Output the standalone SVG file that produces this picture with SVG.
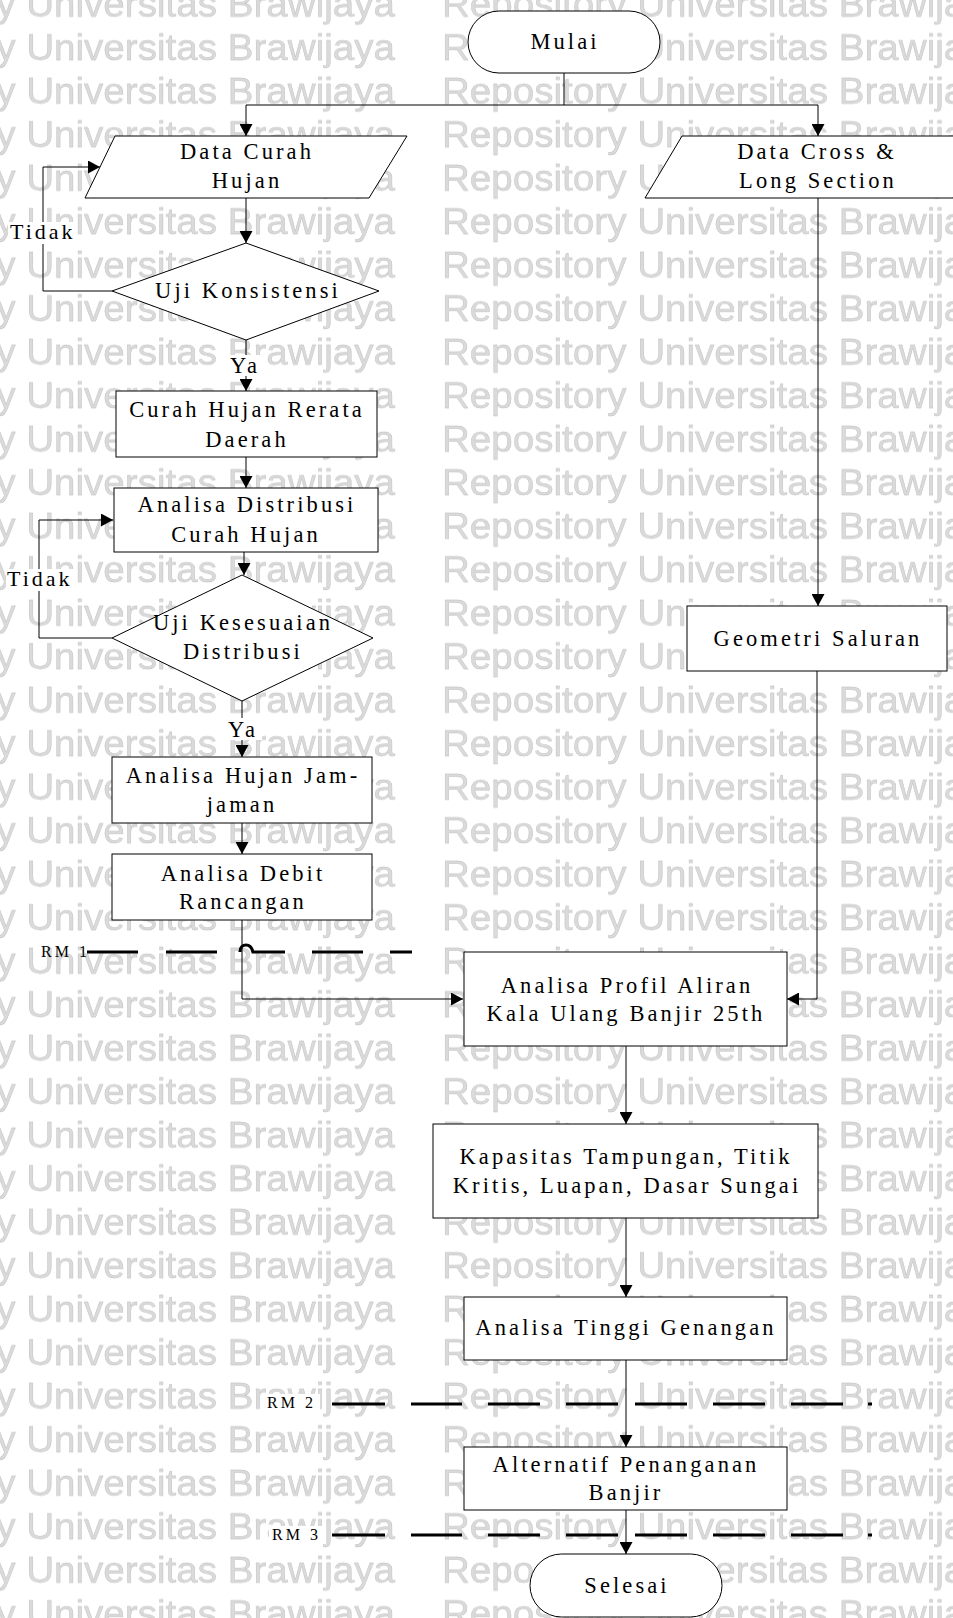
<svg xmlns="http://www.w3.org/2000/svg" width="953" height="1618" viewBox="0 0 953 1618">
<defs>
<style>
.n{fill:#fff;stroke:#000;stroke-width:1}
.t{font-family:"Liberation Serif","Times New Roman",serif;font-size:22.5px;letter-spacing:3.1px;text-anchor:middle;fill:#000}
.l{font-family:"Liberation Serif","Times New Roman",serif;font-size:22px;letter-spacing:3px;fill:#000}
.rmt{font-family:"Liberation Serif","Times New Roman",serif;font-size:16px;letter-spacing:3px;fill:#000}
.c{fill:none;stroke:#000;stroke-width:1}
.rm{fill:none;stroke:#000;stroke-width:3.2}
.bg{fill:#fff;stroke:none}
.wm{font-family:"Liberation Sans",Arial,sans-serif;font-size:37px;fill:#dadada;stroke:#bcbcbc;stroke-width:0.4}
</style>
<marker id="ah" viewBox="0 0 12 13" refX="12" refY="6.5" markerWidth="12" markerHeight="13" markerUnits="userSpaceOnUse" orient="auto">
<path d="M0,0 L12,6.5 L0,13 z" fill="#000"/>
</marker>
<pattern id="wmp" patternUnits="userSpaceOnUse" x="-169" y="-17" width="611" height="43.5">
<text class="wm" x="0" y="34" textLength="564" lengthAdjust="spacingAndGlyphs">Repository Universitas Brawijaya</text>
</pattern>
</defs>
<rect x="0" y="0" width="953" height="1618" fill="#fff"/>
<g id="watermark"><rect x="0" y="0" width="953" height="1618" fill="url(#wmp)"/></g>

<g id="connectors">
<path class="c" d="M564,73 V105"/>
<path class="c" d="M246,105 H818"/>
<path class="c" d="M246,105 V136" marker-end="url(#ah)"/>
<path class="c" d="M818,105 V136" marker-end="url(#ah)"/>
<path class="c" d="M246,198 V243" marker-end="url(#ah)"/>
<path class="c" d="M112,291 H43 V167 H100" marker-end="url(#ah)"/>
<path class="c" d="M246,340 V391" marker-end="url(#ah)"/>
<path class="c" d="M246,457 V488" marker-end="url(#ah)"/>
<path class="c" d="M244,552 V575" marker-end="url(#ah)"/>
<path class="c" d="M112,638 H39 V520 H113" marker-end="url(#ah)"/>
<path class="c" d="M242,701 V757" marker-end="url(#ah)"/>
<path class="c" d="M242,823 V854" marker-end="url(#ah)"/>
<path class="c" d="M242,920 V999 H463" marker-end="url(#ah)"/>
<path class="c" d="M818,198 V606" marker-end="url(#ah)"/>
<path class="c" d="M817,671 V999 H787" marker-end="url(#ah)"/>
<path class="c" d="M626,1046 V1124" marker-end="url(#ah)"/>
<path class="c" d="M626,1218 V1297" marker-end="url(#ah)"/>
<path class="c" d="M626,1360 V1447" marker-end="url(#ah)"/>
<path class="c" d="M626,1510 V1554" marker-end="url(#ah)"/>
<rect class="bg" x="8" y="222" width="68" height="22"/>
<text class="l" x="10" y="239">Tidak</text>
<rect class="bg" x="6" y="569" width="68" height="22"/>
<text class="l" x="7" y="586">Tidak</text>
<rect class="bg" x="222" y="355" width="44" height="21"/>
<text class="t" x="245" y="373">Ya</text>
<rect class="bg" x="222" y="718" width="40" height="22"/>
<text class="t" x="243" y="737">Ya</text>
</g>

<g id="rm1">
<text class="rmt" x="41" y="957">RM 1</text>
<path class="rm" d="M87,952 H138 M166,952 H217 M240,952 C240,947 243,945 246,945 C250,945 252,948 253,952 H285 M312,952 H363 M390,952 H412"/>
</g>
<g id="rm2">
<rect class="bg" x="264" y="1394" width="56" height="18"/>
<text class="rmt" x="267" y="1408">RM 2</text>
<path class="rm" d="M332,1404 H385 M411,1404 H462 M488,1404 H540 M566,1404 H618 M635,1404 H687 M713,1404 H765 M791,1404 H843 M868,1404 H872"/>
</g>
<g id="rm3">
<rect class="bg" x="269" y="1526" width="56" height="18"/>
<text class="rmt" x="272" y="1540">RM 3</text>
<path class="rm" d="M332,1535 H385 M411,1535 H462 M488,1535 H540 M566,1535 H618 M635,1535 H687 M713,1535 H765 M791,1535 H843 M868,1535 H872"/>
</g>

<g id="mulai">
<rect class="n" x="468" y="11" width="192" height="62" rx="31" ry="31"/>
<text class="t" x="565" y="49">Mulai</text>
</g>
<g id="data-curah-hujan">
<polygon class="n" points="115,136 407,136 369,198 85,198"/>
<text class="t" x="247" y="159">Data Curah</text>
<text class="t" x="247" y="188">Hujan</text>
</g>
<g id="data-cross">
<polygon class="n" points="682,136 990,136 953,198 645,198"/>
<text class="t" x="817" y="159">Data Cross &amp;</text>
<text class="t" x="818" y="188">Long Section</text>
</g>
<g id="uji-konsistensi">
<polygon class="n" points="246,243 379,291 246,340 112,291"/>
<text class="t" x="248" y="298">Uji Konsistensi</text>
</g>
<g id="curah-hujan-rerata">
<rect class="n" x="116" y="391" width="261" height="66"/>
<text class="t" x="247" y="417">Curah Hujan Rerata</text>
<text class="t" x="247" y="447">Daerah</text>
</g>
<g id="analisa-distribusi">
<rect class="n" x="114" y="488" width="264" height="64"/>
<text class="t" x="247" y="512">Analisa Distribusi</text>
<text class="t" x="246" y="542">Curah Hujan</text>
</g>
<g id="uji-kesesuaian">
<polygon class="n" points="242,575 373,638 242,701 112,638"/>
<text class="t" x="243" y="630">Uji Kesesuaian</text>
<text class="t" x="243" y="659">Distribusi</text>
</g>
<g id="analisa-hujan">
<rect class="n" x="112" y="757" width="260" height="66"/>
<text class="t" x="243" y="783">Analisa Hujan Jam-</text>
<text class="t" x="242" y="812">jaman</text>
</g>
<g id="analisa-debit">
<rect class="n" x="112" y="854" width="260" height="66"/>
<text class="t" x="243" y="881">Analisa Debit</text>
<text class="t" x="243" y="909">Rancangan</text>
</g>
<g id="geometri">
<rect class="n" x="687" y="606" width="260" height="65"/>
<text class="t" x="818" y="646">Geometri Saluran</text>
</g>
<g id="analisa-profil">
<rect class="n" x="464" y="952" width="323" height="94"/>
<text class="t" x="627" y="993">Analisa Profil Aliran</text>
<text class="t" x="626" y="1021">Kala Ulang Banjir 25th</text>
</g>
<g id="kapasitas">
<rect class="n" x="433" y="1124" width="385" height="94"/>
<text class="t" x="626" y="1164">Kapasitas Tampungan, Titik</text>
<text class="t" x="627" y="1193">Kritis, Luapan, Dasar Sungai</text>
</g>
<g id="analisa-tinggi">
<rect class="n" x="464" y="1297" width="323" height="63"/>
<text class="t" x="626" y="1335">Analisa Tinggi Genangan</text>
</g>
<g id="alternatif">
<rect class="n" x="464" y="1447" width="323" height="63"/>
<text class="t" x="626" y="1472">Alternatif Penanganan</text>
<text class="t" x="626" y="1500">Banjir</text>
</g>
<g id="selesai">
<rect class="n" x="530" y="1554" width="192" height="63" rx="31.5" ry="31.5"/>
<text class="t" x="627" y="1593">Selesai</text>
</g>
</svg>
